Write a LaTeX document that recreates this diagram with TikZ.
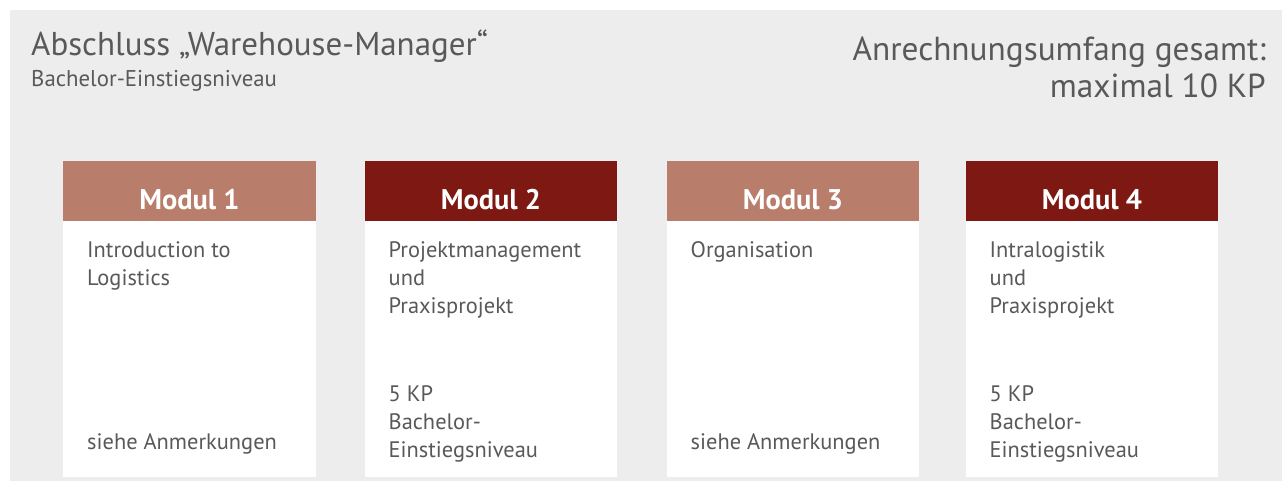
\documentclass[tikz,border=0pt]{standalone}
\usepackage{fontspec}
\setmainfont{PT Sans}
\usepackage{tikz}
\usetikzlibrary{positioning}
\definecolor{bggrey}{HTML}{EDEDED}
\definecolor{txtgrey}{HTML}{595959}
\definecolor{modlight}{HTML}{B97D6B}
\definecolor{moddark}{HTML}{7D1812}

\begin{document}
\begin{tikzpicture}[x=1pt, y=-1pt,
    modhead/.style={minimum width=252.5pt, minimum height=60pt, inner sep=0pt, anchor=north west},
    modbody/.style={fill=white, minimum width=252.5pt, minimum height=255.5pt, inner sep=0pt, anchor=north west},
    modlabel/.style={text=white, anchor=base, inner sep=0pt, font=\fontsize{28.4}{30}\selectfont\bfseries},
    modtext/.style={text=txtgrey, align=left, anchor=base west, inner sep=0pt, font=\fontsize{22.4}{27.8}\selectfont}]

      \useasboundingbox (0,0) rectangle (1282,481);
      \fill [bggrey] (10,10) rectangle (1282,481);

      % heading (base of a multi-line node = its last line)
      \node [text=txtgrey, anchor=base west, inner sep=0pt, font=\fontsize{33}{36}\selectfont] (title) at (31,56) {Abschluss „Warehouse-Manager“};
      \node [text=txtgrey, anchor=base west, inner sep=0pt, font=\fontsize{22.8}{24}\selectfont] (subtitle) at (31,87) {Bachelor-Einstiegsniveau};
      \node [text=txtgrey, align=right, anchor=base east, inner sep=0pt, font=\fontsize{33.3}{37.5}\selectfont] (umfang) at (1266,98) {Anrechnungsumfang gesamt:\\maximal 10 KP};

      % modules: left edge / colour / upper text / its last baseline / lower text / its last baseline
      \foreach \i/\bx/\col/\upper/\uy/\lower/\ly in {%
          1/63/modlight/{Introduction to\\Logistics}/285/{siehe Anmerkungen}/449,
          2/364.5/moddark/{Projektmanagement\\und\\Praxisprojekt}/313/{5 KP\\Bachelor-\\Einstiegsniveau}/457,
          3/666.5/modlight/{Organisation}/257/{siehe Anmerkungen}/449,
          4/965.5/moddark/{Intralogistik\\und\\Praxisprojekt}/313/{5 KP\\Bachelor-\\Einstiegsniveau}/457} {
        \node [modbody] (body\i) at (\bx,221) {};
        \node [modhead, fill=\col] (head\i) at (\bx,161) {};
        \node [modlabel] (label\i) at ([yshift=12pt]head\i.south) {Modul \i};
        \node [modtext] (upper\i) at (\bx+24,\uy) {\upper};
        \node [modtext] (lower\i) at (\bx+24,\ly) {\lower};
      }

\end{tikzpicture}
\end{document}
